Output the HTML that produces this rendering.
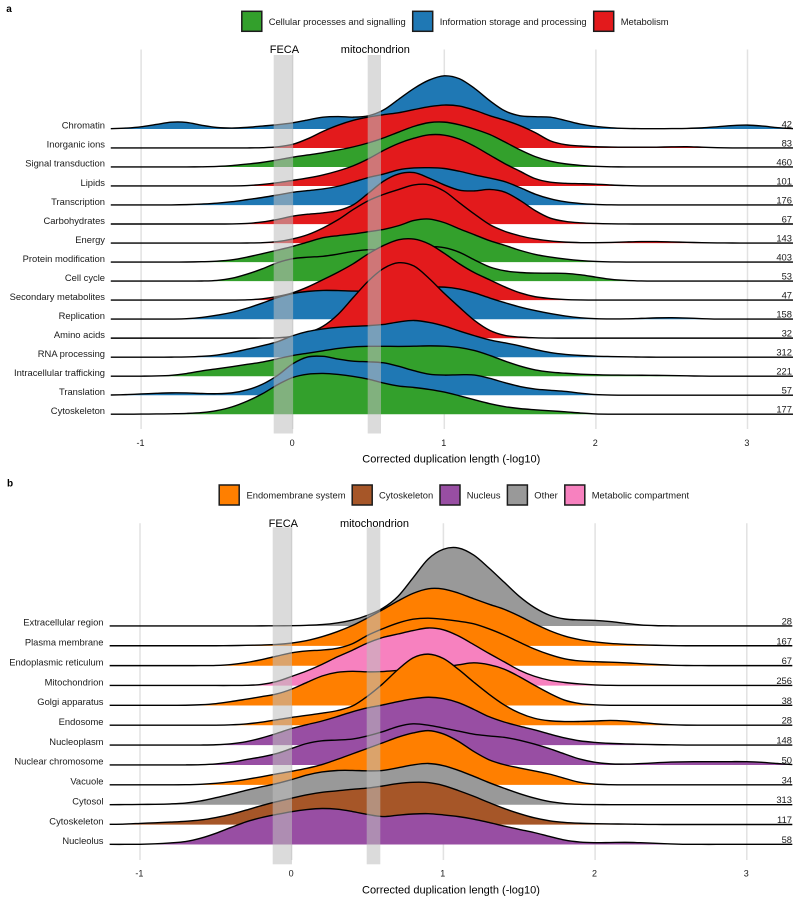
<!DOCTYPE html>
<html lang="en">
<head>
<meta charset="utf-8">
<title>Duplication length ridgeline plots</title>
<style>
html,body{margin:0;padding:0;background:#fff;width:800px;height:903px;overflow:hidden}
svg{display:block;font-family:"Liberation Sans",sans-serif}
.leg{font-size:9.4px;fill:#1a1a1a}
.hd{font-size:11px;fill:#000}
</style>
</head>
<body>
<svg id="chart" width="800" height="903" viewBox="0 0 800 903" xmlns="http://www.w3.org/2000/svg">
  <rect width="800" height="903" fill="#fff"/>
  <g id="panel-a"></g>
  <g id="panel-b"></g>

  <text x="6.3" y="12" font-size="10" font-weight="bold">a</text>
  <text x="7" y="486.7" font-size="10" font-weight="bold">b</text>

  <g>
    <rect x="241.8" y="11.3" width="20" height="20" fill="#33a02c" stroke="#1c1c1c" stroke-width="1.5"/>
    <text class="leg" x="268.7" y="25">Cellular processes and signalling</text>
    <rect x="412.7" y="11.3" width="20" height="20" fill="#1f78b4" stroke="#1c1c1c" stroke-width="1.5"/>
    <text class="leg" x="439.7" y="25">Information storage and processing</text>
    <rect x="593.7" y="11.3" width="20" height="20" fill="#e31a1c" stroke="#1c1c1c" stroke-width="1.5"/>
    <text class="leg" x="620.7" y="25">Metabolism</text>
  </g>

  <g>
    <rect x="219.2" y="485" width="20" height="20" fill="#ff7f00" stroke="#1c1c1c" stroke-width="1.5"/>
    <text class="leg" x="246.5" y="498.7">Endomembrane system</text>
    <rect x="352.2" y="485" width="20" height="20" fill="#a65628" stroke="#1c1c1c" stroke-width="1.5"/>
    <text class="leg" x="379" y="498.7">Cytoskeleton</text>
    <rect x="440" y="485" width="20" height="20" fill="#984ea3" stroke="#1c1c1c" stroke-width="1.5"/>
    <text class="leg" x="466.7" y="498.7">Nucleus</text>
    <rect x="507.4" y="485" width="20" height="20" fill="#999999" stroke="#1c1c1c" stroke-width="1.5"/>
    <text class="leg" x="534.3" y="498.7">Other</text>
    <rect x="564.8" y="485" width="20" height="20" fill="#f781bf" stroke="#1c1c1c" stroke-width="1.5"/>
    <text class="leg" x="591.7" y="498.7">Metabolic compartment</text>
  </g>
</svg>

<script>
// Shared density grid (corrected duplication length, -log10)
const xGrid = [-1.2,-1.1,-1,-0.9,-0.8,-0.7,-0.6,-0.5,-0.4,-0.3,
  -0.2,-0.1,0,0.1,0.2,0.3,0.4,0.5,0.6,0.7,
  0.8,0.9,1,1.1,1.2,1.3,1.4,1.5,1.6,1.7,
  1.8,1.9,2,2.1,2.2,2.3,2.4,2.5,2.6,2.7,
  2.8,2.9,3,3.1,3.2,3.3];
const xTicks = [-1,0,1,2,3];

// Panel a
const categoriesA = ["Chromatin","Inorganic ions","Signal transduction","Lipids","Transcription","Carbohydrates","Energy","Protein modification","Cell cycle","Secondary metabolites","Replication","Amino acids","RNA processing","Intracellular trafficking","Translation","Cytoskeleton"];
const countsA = [42,83,460,101,176,67,143,403,53,47,158,32,312,221,57,177];
const groupsA = ["info","metab","cell","metab","info","metab","metab","cell","cell","metab","info","metab","info","cell","info","cell"];

const chromatinA = [.2,.8,2,4.5,7.3,7.2,3.5,1.2,.7,1.5, 3,4.2,6,9,12.3,12.7,11.5,12.5,18,30, 41,49.5,54.5,51.5,41,28,17,12.5,12.2,12.5, 8.5,4.5,2.5,1,.5,.3,.3,.4,.5,1, 2.2,3.5,4.2,3,1.2,.2];
const inorganicA = [.1,.1,.1,.1,.1,.1,.1,.1,.1,.1, .2,1,3,9,17,23,28,31,33.5,35, 38.5,41.5,43.5,42.5,38,32,28,22.5,16,6, 3,2,1.2,.9,.8,.8,.8,1.2,1.5,.8, .3,.1,.1,.1,.1,.1];
const signalA = [.1,.1,.1,.1,.1,.1,.2,.5,1.3,3, 4.5,7,10,12,14.3,17,20,24,29,35, 41,45,45.5,42.5,38,33,25,17,10,5.5, 3,1.5,.6,.2,.1,.1,.1,.1,.1,.1, .1,.1,.1,.1,.1,.1];
const lipidsA = [.1,.1,.1,.1,.1,.1,.1,.1,.1,.4, 1.5,3.2,5.7,8,11,15,20,27,36,43, 48,52,51.5,47.5,40,31,22,15,6.5,3.5, 2.7,2.4,2,1,.4,.1,.1,.1,.1,.1, .1,.1,.1,.1,.1,.1];
const transcriptionA = [.1,.1,.1,.1,.1,.4,1,1.8,3.2,5.5, 7.5,10,13,14.5,16,18.5,23,28,30.5,36, 37.3,37.5,37,34,30,27,24,17.5,10.5,6, 3,1.4,.6,.2,.1,.1,.1,.1,.1,.1, .1,.1,.1,.1,.1,.1];
const carbohydratesA = [.1,.1,.1,.1,.1,.1,.1,.1,.1,.5, 2,4.5,8.3,10,11,13,18,31,44,51, 53,46,39,33,32.7,35.5,33,24,13,5, 2.5,1.2,.6,.2,.1,.1,.1,.1,.1,.1, .1,.1,.1,.1,.1,.1];
const energyA = [.1,.1,.1,.1,.1,.1,.1,.1,.1,.1, .3,1.2,4,8,15,23,34,43,49,53.5, 59,59.5,53,40,29,17.6,11.5,7,4,2, .9,.4,.4,.6,1.2,1.6,1.6,1.2,.8,.4, .2,.1,.1,.1,.1,.1];
const proteinModA = [.1,.1,.1,.1,.1,.1,.4,.8,2,5, 8.5,12,15.6,20,25,26.5,28,30.5,32.5,36, 42.5,44,40,33,27.5,21,17,11.5,7.5,5, 3,1.5,.6,.2,.1,.1,.1,.1,.1,.1, .1,.1,.1,.1,.1,.1];
const cellCycleA = [.1,.1,.1,.1,.1,.1,.1,.5,2.5,7, 12,19,23,24,24.6,27,30,32,31,31.5, 33.5,35,34,29.5,21,13.5,10,8.5,8,8, 8,6.5,4,1.6,.6,.2,.1,.1,.1,.1, .1,.1,.1,.1,.1,.1];
const secondaryA = [.1,.1,.1,.1,.1,.1,.1,.1,.1,.2, 1.2,3.5,7,13,20.5,28,36,47,55,61.5, 62,57,47,36,27,20.5,13,7,3,1.6, .5,.2,.1,.1,.1,.1,.1,.1,.1,.1, .1,.1,.1,.1,.1,.1];
const replicationA = [.1,.1,.1,.1,.1,.3,1.5,4,6.5,11, 16,22,26,28,29,28.7,28,28,29,30, 31,32,32.5,30.5,26.5,21,16.5,12,8.5,5.5, 3,1.3,.4,.2,.3,.8,1.4,1.6,1.2,.5, .1,.1,.1,.1,.1,.1];
const aminoA = [.1,.1,.1,.1,.1,.1,.1,.1,.1,.1, .1,.2,1.5,5,11,23,41,58,71,77, 74,60,44.5,31,17,7,2.2,1,.4,.1, .1,.1,.1,.1,.1,.1,.1,.1,.1,.1, .1,.1,.1,.1,.1,.1];
const rnaA = [.1,.1,.1,.1,.1,.2,.8,2,4.5,8, 11.5,15,22,26,28.5,30,31,31.5,32.5,35.5, 37.5,35,31.5,26,21.5,17,14.5,11.5,7.5,4.5, 2.7,1.7,1,.7,.4,.1,.1,.1,.1,.1, .1,.1,.1,.1,.1,.1];
const traffickingA = [.1,.1,.1,.2,.8,2.5,5.5,7.5,9.5,12, 14,17.5,21,23,25.5,28,29.5,30,30,29.8, 30,30.5,30.3,29,26,21,15,10,6,4, 3,2,1.5,1.2,1.1,1,.9,.7,.4,.1, .1,.1,.1,.1,.1,.1];
const translationA = [.2,.6,1.3,2,2.5,2.4,1.7,1.4,2,5, 10.5,19,32.6,39.5,39.5,36,33.8,33.5,33,29, 24.5,20.5,20,20.5,21,17,12.5,8.5,6,5, 4,2,.5,.1,.1,.1,.1,.1,.1,.1, .1,.1,.1,.1,.1,.1];
const cytoskeletonA = [.1,.1,.2,.3,.5,.8,1.5,3.5,7,13, 20,30,37.6,40.5,41.2,40,38,35.5,31,27.8, 27,25,22.5,18.5,14.5,10.5,7.5,5.5,4.5,3.5, 2.5,1.2,.2,.1,.1,.1,.1,.1,.1,.1, .1,.1,.1,.1,.1,.1];

// Panel b
const categoriesB = ["Extracellular region","Plasma membrane","Endoplasmic reticulum","Mitochondrion","Golgi apparatus","Endosome","Nucleoplasm","Nuclear chromosome","Vacuole","Cytosol","Cytoskeleton","Nucleolus"];
const countsB = [28,167,67,256,38,28,148,50,34,313,117,58];
const groupsB = ["other","endo","endo","pink","endo","endo","nucleus","nucleus","endo","other","brown","nucleus"];

const extracellularB = [.1,.1,.1,.1,.1,.1,.1,.1,.1,.1, .1,.2,.3,.7,1.2,3,5.5,10.5,17,28, 48,69,78,79.5,72,58,44,29,18,10, 6.5,6,5.7,4.6,2.5,.9,.3,.1,.1,.1, .1,.1,.1,.1,.1,.1];
const plasmaB = [.1,.1,.1,.1,.1,.1,.1,.1,.2,.5, .8,1.2,2.7,5,9,14,20,28,36,45, 53,58,57.5,53,47,41.5,37,30,22,15, 9.5,6,3.8,2.3,1.5,1,.6,.2,.1,.1, .1,.1,.1,.1,.1,.1];
const erB = [.1,.1,.1,.1,.1,.1,.1,.2,1,3, 6,9.5,13.3,15,15.5,17,21,31,37,43, 47,48,46.5,44.5,42.5,37,31,23.5,16.5,11, 6.5,4.5,4,3.5,3,2,1.2,.5,.2,.1, .1,.1,.1,.1,.1,.1];
const mitochondrionB = [.1,.1,.1,.1,.1,.1,.1,.1,.1,.1, .8,3.5,9.3,14.5,21,29,35,43,48.5,51.5, 55,58.5,56.5,50,41,32,24,15,9,5, 3,1.5,.6,.2,.1,.1,.1,.1,.1,.1, .1,.1,.1,.1,.1,.1];
const golgiB = [.1,.1,.1,.1,.1,.1,.6,1.6,3.8,6.2, 8.8,11,16,23,30,33.5,34.5,33.3,33.8,35, 36,37,38.5,40.5,43.5,41,37,29,20,12, 4.5,1.6,.5,.1,.1,.1,.1,.1,.1,.1, .1,.1,.1,.1,.1,.1];
const endosomeB = [.1,.1,.1,.1,.1,.1,.1,.1,.4,1.2, 3,5.5,8,10,12,14.5,18,29,41,56, 69,72.5,68,56,43,31,20,12,6.5,4.3, 3.6,3.8,4.2,5.2,4.3,2.8,1.3,.5,.1,.1, .1,.1,.1,.1,.1,.1];
const nucleoplasmB = [.1,.1,.1,.1,.1,.1,.1,.3,1.2,3.2, 7,11.5,17,20.5,24,28.5,33.5,37.6,40,43.6, 46.5,48.5,47,43,36,28,23,19,15.5,11, 7,4,2.7,1.7,1.2,.9,.5,.3,.1,.1, .1,.1,.1,.1,.1,.1];
const chromosomeB = [.1,.1,.1,.1,.1,.1,.3,1,2.5,5.5, 8,11,16.6,22,24.5,25,25.5,29,33,39, 42,40,37,34,30.5,29,28,25,21,16.5, 11,5.5,2.5,.9,.8,1.4,2.2,3,3.3,3.3, 3.3,3.4,3.4,2.8,1.5,.3];
const vacuoleB = [.1,.1,.1,.1,.1,.1,.5,1.5,3,5.5, 8,11,13.5,16.5,20,25.5,31,36.5,42,48, 52,55.5,51.5,44,33,24.5,20,17,14,11, 6.5,2,.6,.1,.1,.1,.1,.1,.1,.1, .1,.1,.1,.1,.1,.1];
const cytosolB = [.1,.1,.3,.4,.8,1.5,3.6,7,10.5,14.5, 18,21,25,30,33,34.5,34.4,33.8,33.7,37, 40,42,39.5,34.5,28.5,22,16.5,11,6.5,2.8, 1,.3,.1,.1,.1,.1,.1,.1,.1,.1, .1,.1,.1,.1,.1,.1];
const cytoskeletonB = [.2,.5,1.2,1.8,2.5,3.2,4.4,7,10,14.5, 19,23,26.3,30,32.5,33.7,35.5,36.3,38.5,41.3, 42.5,42.5,39.5,34,28.5,22,16,11,6.5,3.6, 2,1.3,.9,.7,.5,.3,.1,.1,.1,.1, .1,.1,.1,.1,.1,.1];
const nucleolusB = [.1,.1,.1,.5,1.5,2.5,6,11,17,23, 27,30,33,35,36.3,35.5,33,30,27,29.5, 30.5,31.2,29.5,28,25.5,22,18.3,15,12,8, 4,2.2,1.6,1.9,2.2,1.8,1.2,.5,.1,.1, .1,.1,.1,.1,.1,.1];

const seriesA = [chromatinA,inorganicA,signalA,lipidsA,transcriptionA,carbohydratesA,energyA,proteinModA,cellCycleA,secondaryA,replicationA,aminoA,rnaA,traffickingA,translationA,cytoskeletonA];
const seriesB = [extracellularB,plasmaB,erB,mitochondrionB,golgiB,endosomeB,nucleoplasmB,chromosomeB,vacuoleB,cytosolB,cytoskeletonB,nucleolusB];

const COLORS = {cell:"#33a02c",info:"#1f78b4",metab:"#e31a1c",endo:"#ff7f00",brown:"#a65628",nucleus:"#984ea3",other:"#999999",pink:"#f781bf"};
const NS = "http://www.w3.org/2000/svg";

function make(parent, tag, attrs, txt){
  const el = document.createElementNS(NS, tag);
  for (const k in attrs) el.setAttribute(k, attrs[k]);
  if (txt !== undefined) el.textContent = txt;
  parent.appendChild(el);
  return el;
}
function slug(s){ return s.toLowerCase().replace(/[^a-z0-9]+/g,'-'); }

// Light kernel smoothing, like the density estimate in the original, removes estimation kinks
function soften(vals){
  return vals.map((v, i) => {
    const a = vals[Math.max(i-1,0)], b = vals[Math.min(i+1,vals.length-1)];
    return (a + 4*v + b) / 6;
  });
}

function smooth(pts){
  let d = "";
  for (let i = 0; i < pts.length - 1; i++){
    const p0 = pts[Math.max(i-1,0)], p1 = pts[i], p2 = pts[i+1], p3 = pts[Math.min(i+2,pts.length-1)];
    const c1x = p1[0] + (p2[0]-p0[0])/6, c1y = p1[1] + (p2[1]-p0[1])/6;
    const c2x = p2[0] - (p3[0]-p1[0])/6, c2y = p2[1] - (p3[1]-p1[1])/6;
    d += "C" + c1x.toFixed(2) + " " + c1y.toFixed(2) + " " + c2x.toFixed(2) + " " + c2y.toFixed(2) + " " + p2[0].toFixed(2) + " " + p2[1].toFixed(2);
  }
  return d;
}

function drawPanel(root, cfg, categories, counts, groups, series){
  const xScale = v => cfg.x0 + cfg.xUnit * v;
  const rowY = i => cfg.firstBase + cfg.rowStep * i;
  const yVal = (i, h) => rowY(i) - h * cfg.yUnit;

  xTicks.forEach(t => {
    const line = make(root, "line", {x1:xScale(t), x2:xScale(t), y1:cfg.gridTop, y2:cfg.gridBottom, stroke:"#e2e2e2", "stroke-width":1.5});
    
    
  });

  series.forEach((vals, i) => {
    const pts = soften(vals).map((h, k) => [xScale(xGrid[k]), yVal(i, h)]);
    const curve = smooth(pts);
    const start = "M" + pts[0][0].toFixed(2) + " " + pts[0][1].toFixed(2);
    const g = make(root, "g", {});
    
    
    const area = make(g, "path", {d: start + curve + "L" + pts[pts.length-1][0].toFixed(2) + " " + rowY(i).toFixed(2) + "L" + pts[0][0].toFixed(2) + " " + rowY(i).toFixed(2) + "Z", fill: COLORS[groups[i]]});
    
    
    const line = make(g, "path", {d: start + curve, fill:"none", stroke:"#000", "stroke-width":1.4, "stroke-linejoin":"round"});
    
    
  });

  cfg.bands.forEach(b => {
    const r = make(root, "rect", {x:b.x, y:cfg.bandTop, width:b.w, height:cfg.bandBottom-cfg.bandTop, fill:"#bfbfbf", "fill-opacity":0.56});
    
    
    const t = make(root, "text", {x:b.x + b.w/2 + b.dx, y:cfg.bandLabelY, "text-anchor":"middle", class:"hd"}, b.label);
    
    
  });

  categories.forEach((c, i) => {
    const t = make(root, "text", {x:cfg.labelX, y:rowY(i)-0.3, "text-anchor":"end", "font-size":9.4, fill:"#1a1a1a"}, c);
    
    
    const n = make(root, "text", {x:792, y:rowY(i)-1.6, "text-anchor":"end", "font-size":9.4, fill:"#1a1a1a"}, String(counts[i]));
    
    
  });

  xTicks.forEach(t => {
    const l = make(root, "text", {x:xScale(t)-0.6, y:cfg.tickY, "text-anchor":"middle", "font-size":9, fill:"#1a1a1a"}, String(t));
    
    
  });

  const title = make(root, "text", {x:cfg.titleX, y:cfg.titleY, "font-size":11, fill:"#000"}, "Corrected duplication length (-log10)");
  
  
}

drawPanel(document.getElementById("panel-a"), {
  x0:292.7, xUnit:151.6, yUnit:1, firstBase:129, rowStep:19.02,
  gridTop:49.5, gridBottom:429, bandTop:55, bandBottom:433.5,
  bandLabelY:53, tickY:446, titleX:362.3, titleY:462.7, labelX:105,
  bands:[{label:"FECA", x:273.7, w:19.4, dx:1}, {label:"mitochondrion", x:367.7, w:13.3, dx:1}]
}, categoriesA, countsA, groupsA, seriesA);

drawPanel(document.getElementById("panel-b"), {
  x0:291.7, xUnit:151.7, yUnit:1, firstBase:626, rowStep:19.86,
  gridTop:523.3, gridBottom:860, bandTop:527.3, bandBottom:864.3,
  bandLabelY:527, tickY:876.7, titleX:362, titleY:893.3, labelX:103.5,
  bands:[{label:"FECA", x:272.7, w:19.3, dx:1}, {label:"mitochondrion", x:366.7, w:13.6, dx:1}]
}, categoriesB, countsB, groupsB, seriesB);
</script>
</body>
</html>
